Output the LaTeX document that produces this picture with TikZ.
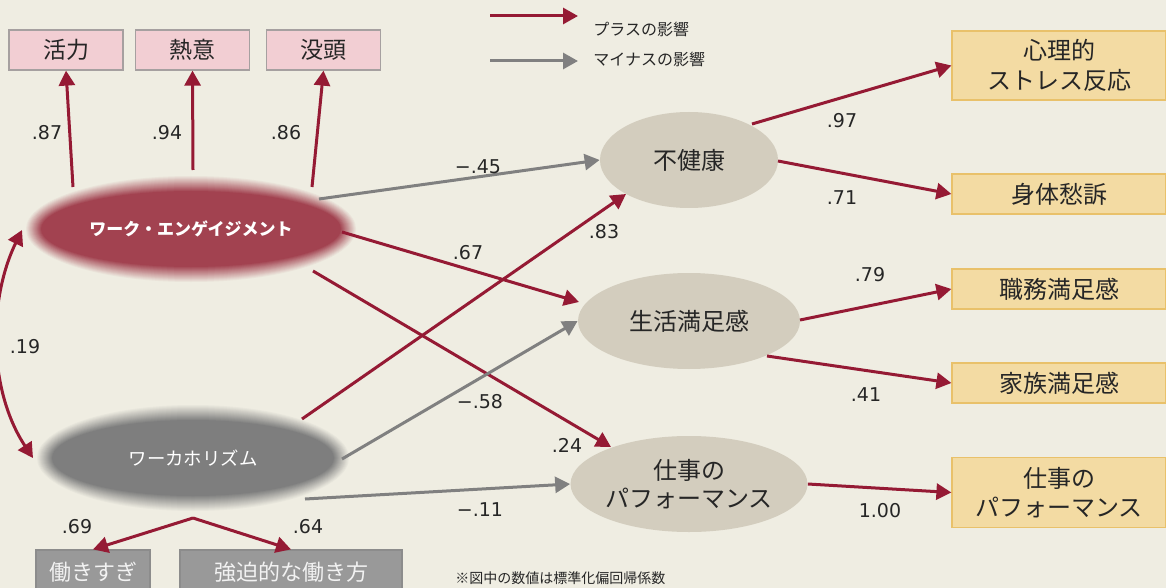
\documentclass[tikz,border=0pt]{standalone}
\usepackage{fontspec}
\setmainfont{DejaVu Sans}
\newfontfamily\jp{Noto Sans CJK JP}
\newfontfamily\numf{DejaVu Sans}
\usetikzlibrary{arrows.meta,shapes.geometric}
\definecolor{bgc}{RGB}{239,237,226}
\definecolor{redc}{RGB}{149,26,52}
\definecolor{wefill}{RGB}{162,66,80}
\definecolor{grayc}{RGB}{128,128,128}
\definecolor{whfill}{RGB}{126,126,126}
\definecolor{tanc}{RGB}{211,205,190}
\definecolor{pinkc}{RGB}{242,206,211}
\definecolor{pinkline}{RGB}{166,160,160}
\definecolor{goldc}{RGB}{243,219,163}
\definecolor{goldline}{RGB}{233,193,106}
\definecolor{gboxc}{RGB}{153,153,153}
\definecolor{gboxline}{RGB}{140,140,140}
\definecolor{txt}{RGB}{38,38,38}
\begin{document}
\begin{tikzpicture}[x=0.5pt,y=-0.5pt,
  >={Triangle[length=7.5pt,width=8pt]},
  plus/.style={draw=redc,line width=1.5pt,->},
  minus/.style={draw=grayc,line width=1.5pt,->},
  lbl/.style={font=\numf\fontsize{9.5}{11}\selectfont,text=txt,inner sep=0pt},
  pinkbox/.style={rectangle,draw=pinkline,fill=pinkc,line width=0.6pt,minimum width=57pt,minimum height=20pt,inner sep=0pt,text=txt,font=\jp\fontsize{11.5}{14}\selectfont},
  goldbox/.style={rectangle,draw=goldline,fill=goldc,line width=0.6pt,minimum width=107pt,minimum height=20pt,inner sep=0pt,text=txt,align=center,font=\jp\fontsize{12}{14.8}\selectfont},
  graybox/.style={rectangle,draw=gboxline,fill=gboxc,line width=0.6pt,minimum height=22pt,inner sep=0pt,text={rgb,255:red,242;green,242;blue,242},font=\jp\fontsize{11}{13}\selectfont},
  tanell/.style={ellipse,fill=tanc,minimum height=48pt,inner sep=0pt,text=txt,align=center,font=\jp\fontsize{12}{14}\selectfont},
  blurell/.style={ellipse,inner sep=0pt,text=white}
]
\fill[bgc] (0,0) rectangle (1166,588);
\useasboundingbox (0,0) rectangle (1166,588);
\clip (0,0) rectangle (1166,588);

% blurred latent ellipses (soft edge built from 1px steps)
\coordinate (cwe) at (191,229);
\coordinate (cwh) at (193,458);
\foreach \k in {0,...,16}{
  \pgfmathtruncatemacro\pct{100*\k/16}
  \fill[wefill!\pct!bgc] (cwe) ellipse [x radius={166-\k}, y radius={54-\k}];
  \fill[whfill!\pct!bgc] (cwh) ellipse [x radius={157-\k}, y radius={54-\k}];
}

\node[blurell,minimum width=158pt,minimum height=46pt,font=\jp\bfseries\fontsize{8.5}{10}\selectfont] (we) at (cwe) {ワーク・エンゲイジメント};
\node[blurell,minimum width=149pt,minimum height=46pt,font=\jp\fontsize{9.2}{11}\selectfont] (wh) at (cwh) {\raisebox{-1pt}{ワーカホリズム}};

% indicator boxes
\node[pinkbox] (vigor) at (66,50) {活力};
\node[pinkbox] (dedication) at (192.5,50) {熱意};
\node[pinkbox] (absorption) at (323.5,50) {没頭};
\node[graybox,minimum width=57pt] (over) at (93,572) {働きすぎ};
\node[graybox,minimum width=111pt] (compulsive) at (291,572) {強迫的な働き方};

% outcome ellipses
\node[tanell,minimum width=89pt] (ill) at (689,160) {不健康};
\node[tanell,minimum width=111pt] (life) at (689,321) {生活満足感};
\node[tanell,minimum width=111pt] (perf) at (689,484) {仕事の\\パフォーマンス};

% right boxes
\node[goldbox,minimum height=34.5pt] (stress) at (1059,65.5) {心理的\\ストレス反応};
\node[goldbox] (somatic) at (1059,194) {身体愁訴};
\node[goldbox] (job) at (1059,289) {職務満足感};
\node[goldbox] (family) at (1059,383) {家族満足感};
\node[goldbox,minimum height=35pt] (perfbox) at (1059,492.5) {仕事の\\パフォーマンス};

% measurement arrows
\draw[plus] ([shift={(-118,-42)}]we.center) -- (vigor.south);
\draw[plus] ([shift={(2,-59)}]we.center) -- (dedication.south);
\draw[plus] ([shift={(121,-42)}]we.center) -- (absorption.south);
\draw[plus] ([shift={(0,60)}]wh.center) -- (over.north);
\draw[plus] ([shift={(0,60)}]wh.center) -- (compulsive.north);

% structural paths
\draw[minus] ([shift={(128,-30)}]we.center) -- (ill.west);
\draw[plus] ([shift={(151,3)}]we.center) -- ([shift={(-110,-19)}]life.center);
\draw[plus] ([shift={(122,42)}]we.center) -- ([shift={(-78,-37)}]perf.center);
\draw[plus] ([shift={(109,-39)}]wh.center) -- ([shift={(-63,34)}]ill.center);
\draw[minus] ([shift={(149,1)}]wh.center) -- (life.west);
\draw[minus] ([shift={(112,41)}]wh.center) -- (perf.west);

\draw[plus] ([shift={(63,-36)}]ill.center) -- (stress.west);
\draw[plus] ([shift={(89,1)}]ill.center) -- (somatic.west);
\draw[plus] ([shift={(111,-1)}]life.center) -- (job.west);
\draw[plus] ([shift={(78,35)}]life.center) -- (family.west);
\draw[plus] (perf.east) -- (perfbox.west);

% correlation
\draw[plus,<->] ([shift={(-160,0)}]wh.center) .. controls (-12,390) and (-12,300) .. ([shift={(-169,1)}]we.center);

% labels
\node[lbl] (l87) at (47,133) {.87};
\node[lbl] (l94) at (167,133) {.94};
\node[lbl] (l86) at (286,133) {.86};
\node[lbl] (l45) at (478,167) {−.45};
\node[lbl] (l67) at (468,253) {.67};
\node[lbl] (l83) at (604,232) {.83};
\node[lbl] (l58) at (480,402) {−.58};
\node[lbl] (l24) at (567,445) {.24};
\node[lbl] (l11) at (480,510) {−.11};
\node[lbl] (l97) at (842,121) {.97};
\node[lbl] (l71) at (842,198) {.71};
\node[lbl] (l79) at (870,275) {.79};
\node[lbl] (l41) at (866,395) {.41};
\node[lbl] (l100) at (880,511) {1.00};
\node[lbl] (l19) at (25,347) {.19};
\node[lbl] (l69) at (77,527) {.69};
\node[lbl] (l64) at (308,527) {.64};

% legend
\coordinate (lga) at (490,16);
\coordinate (lgb) at (578,16);
\coordinate (lgc) at (490,61);
\coordinate (lgd) at (578,61);
\draw[plus] (lga) -- (lgb);
\draw[minus] (lgc) -- (lgd);
\node[anchor=west,inner sep=0pt,text=txt,font=\jp\fontsize{8}{10}\selectfont] (lgt1) at (593,29) {プラスの影響};
\node[anchor=west,inner sep=0pt,text=txt,font=\jp\fontsize{8}{10}\selectfont] (lgt2) at (593,59) {マイナスの影響};

% footnote
\node[anchor=base west,inner sep=0pt,text=txt,font=\jp\fontsize{7}{9}\selectfont] (note) at (455,583) {※図中の数値は標準化偏回帰係数};
\end{tikzpicture}
\end{document}
